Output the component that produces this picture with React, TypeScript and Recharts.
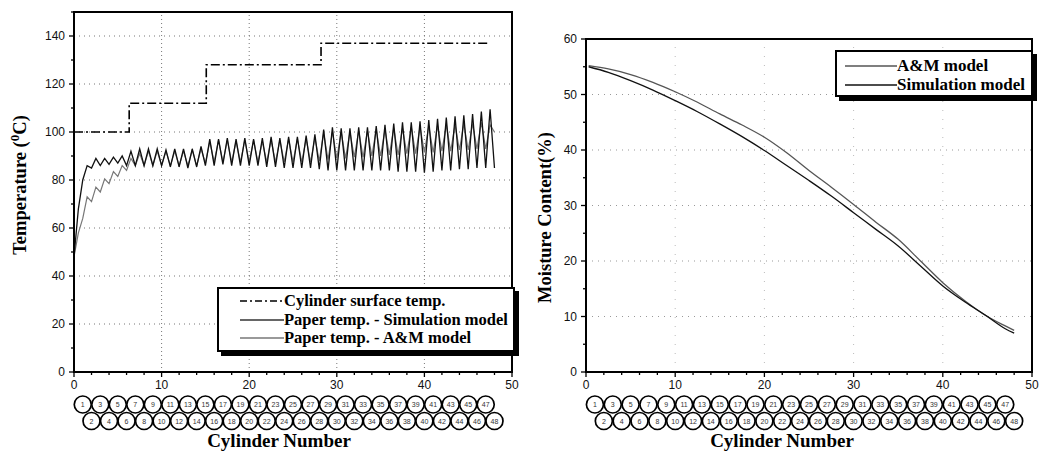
import React from 'react';
import { LineChart, Line, XAxis, YAxis, ReferenceLine, ReferenceArea } from 'recharts';

const serif = '"Liberation Serif", "Times New Roman", serif';
const sans = '"Liberation Sans", Arial, sans-serif';

// left panel: temperatures along the dryer section
const stepStarts = [0, 6.3, 15.1, 28.2, 47.5];
const surfaceTemp = [100, 112, 128, 137, 137];

const paperStart = 48;
// peak on each cylinder (x = n - 0.5) and trough after it (x = n)
const simPeaks = [68, 86, 89, 89, 89.5, 90, 92, 93, 93, 93, 92.5, 93, 93, 93, 94, 97, 97, 97.5, 97, 97.5, 97, 97.5, 98, 97.5, 98, 98, 98.5, 99, 101, 102, 101.5, 101.5, 102, 102, 102.5, 103, 103.5, 104, 104, 104.5, 105, 105.5, 106, 106.5, 107, 107.5, 108.5, 109.5];
const simTroughs = [80, 85, 86, 86.5, 87, 86, 86, 86, 86, 86, 85.5, 85.5, 85, 85.5, 86, 86, 86.5, 86, 86, 86, 86, 85.5, 85.5, 85, 85, 85, 85, 84.5, 84, 84, 84, 84, 84, 84, 84, 84, 83.5, 83.5, 83.5, 83, 83.5, 84, 84, 84.5, 84.5, 85, 85, 85];
const amPeaks = [58, 73, 77, 80.5, 83.5, 86, 89, 91, 92, 92, 92, 92, 92, 92.5, 93, 96, 96.5, 96.5, 96, 96.5, 96.5, 96, 96.5, 96.5, 97, 97, 97, 97.5, 99.5, 100, 100, 100, 100.5, 100.5, 101, 101, 101.5, 101.5, 102, 102, 102.5, 102.5, 103, 103, 103.5, 103.5, 104, 103];
const amTroughs = [64, 71, 75, 78.5, 81.5, 84, 86, 86, 86, 86, 86, 86, 86, 86, 87, 87.5, 87.5, 87.5, 87.5, 87.5, 87.5, 87.5, 87.5, 87.5, 87.5, 87.5, 87.5, 88, 88.5, 89, 89, 89.5, 89.5, 90, 90, 90.5, 90.5, 91, 91, 91.5, 91.5, 92, 92, 92.5, 92.5, 93, 93, 100];

// right panel: moisture content
const moistureX = [0.3, 2.5, 5, 7.5, 10, 12.5, 15, 17.5, 20, 22.5, 25, 27.5, 30, 32.5, 35, 37.5, 40, 42.5, 45, 47, 48];
const amMoisture = [55.2, 54.6, 53.6, 52.2, 50.5, 48.6, 46.5, 44.5, 42.3, 39.5, 36.3, 33.3, 30.2, 27.0, 23.9, 20.0, 16.1, 12.8, 10.0, 8.3, 7.5];
const simMoisture = [55.0, 54.0, 52.5, 50.8, 48.9, 46.9, 44.7, 42.4, 39.9, 37.2, 34.5, 31.7, 28.7, 25.7, 22.7, 19.1, 15.5, 12.6, 10.0, 7.8, 7.0];

// axes
const xTicks = [0, 2, 4, 6, 8, 10, 12, 14, 16, 18, 20, 22, 24, 26, 28, 30, 32, 34, 36, 38, 40, 42, 44, 46, 48, 50];
const tempTicks = [0, 10, 20, 30, 40, 50, 60, 70, 80, 90, 100, 110, 120, 130, 140, 150];
const moistureTicks = [0, 5, 10, 15, 20, 25, 30, 35, 40, 45, 50, 55, 60];
const cylinderNumbers = Array.from({ length: 48 }, (_, i) => i + 1);

const tempGridY = [20, 40, 60, 80, 100, 120, 140];
const moistureGridY = [10, 20, 30, 40, 50];
const gridX = [10, 20, 30, 40];

const zigzag = (start: number, peaks: number[], troughs: number[]) => {
  const pts = [{ x: 0, y: start }];
  peaks.forEach((p, i) => {
    pts.push({ x: i + 0.5, y: p });
    pts.push({ x: i + 1, y: troughs[i] });
  });
  return pts;
};
const pairs = (xs: number[], ys: number[]) => xs.map((x, i) => ({ x, y: ys[i] }));

const surfaceData = pairs(stepStarts, surfaceTemp);
const simTempData = zigzag(paperStart, simPeaks, simTroughs);
const amTempData = zigzag(paperStart, amPeaks, amTroughs);
const amMoistData = pairs(moistureX, amMoisture);
const simMoistData = pairs(moistureX, simMoisture);

const BottomTick = (props: any) => {
  const { x, y, payload } = props;
  const major = payload.value % 10 === 0;
  return (
    <g>
      <line x1={x} y1={y} x2={x} y2={y + (major ? 5 : 3)} stroke="#000" strokeWidth={1.3} />
      {major && (
        <text x={x} y={y + 17} textAnchor="middle" fontSize={12} fontFamily={sans} fill="#111">
          {payload.value}
        </text>
      )}
    </g>
  );
};

const leftTick = (step: number) => (props: any) => {
  const { x, y, payload } = props;
  const major = payload.value % step === 0;
  return (
    <g>
      <line x1={x} y1={y} x2={x - (major ? 5 : 3)} y2={y} stroke="#000" strokeWidth={1.3} />
      {major && (
        <text x={x - 9} y={y + 4} textAnchor="end" fontSize={12} fontFamily={sans} fill="#111">
          {payload.value}
        </text>
      )}
    </g>
  );
};

const CylinderTick = (props: any) => {
  const { x, y, payload } = props;
  const n = payload.value;
  const cy = y + (n % 2 === 1 ? 16.5 : 33);
  return (
    <g>
      <circle cx={x} cy={cy} r={8.5} fill="#fff" stroke="#000" strokeWidth={1.7} />
      <text x={x} y={cy + 2.5} textAnchor="middle" fontSize={7} fontFamily={sans} fill="#333">
        {n}
      </text>
    </g>
  );
};

const cylinderTitle = (shift: number) => (props: any) => {
  const { x, y, width } = props.viewBox;
  return (
    <text x={x + width / 2 + shift} y={y + 59} textAnchor="middle" fontSize={19} fontWeight="bold" fontFamily={serif} fill="#000">
      Cylinder Number
    </text>
  );
};

const sideTitle = (cx: number, shift: number, content: React.ReactNode) => (props: any) => {
  const { y, height } = props.viewBox;
  const cy = y + height / 2 + shift;
  return (
    <text x={cx} y={cy} transform={`rotate(-90, ${cx}, ${cy})`} textAnchor="middle" dominantBaseline="central" fontSize={18.5} fontWeight="bold" fontFamily={serif} fill="#000">
      {content}
    </text>
  );
};

const Sample = ({ width, dash, color }: { width: number; dash?: string; color: string }) => (
  <svg width={width} height={10} style={{ flex: 'none' }}>
    <line x1={0} y1={5} x2={width} y2={5} stroke={color} strokeWidth={1.5} strokeDasharray={dash} />
  </svg>
);

const LegendBox = ({ left, top, width, height, pad, indent, sampleWidth, fontSize, items }: any) => (
  <div
    style={{
      position: 'absolute', left, top, width, height, boxSizing: 'border-box',
      border: '2px solid #000', boxShadow: '4px 4px 0 #000', background: '#fff',
      paddingTop: pad, fontFamily: serif, fontWeight: 'bold', fontSize, color: '#000',
    }}
  >
    {items.map((it: any) => (
      <div key={it.label} style={{ display: 'flex', alignItems: 'center', height: 18.5, paddingLeft: indent, whiteSpace: 'nowrap' }}>
        <Sample width={sampleWidth} dash={it.dash} color={it.color} />
        <span>{it.label}</span>
      </div>
    ))}
  </div>
);

const frameAxis = { stroke: '#000', strokeWidth: 2 };

const TemperatureChart = () => (
  <LineChart width={530} height={451} margin={{ top: 12, right: 18, bottom: 0, left: 0 }}>
    {tempGridY.map((v) => (
      <ReferenceLine key={`h${v}`} y={v} stroke="#777" strokeDasharray="1 4" />
    ))}
    {gridX.map((v) => (
      <ReferenceLine key={`v${v}`} x={v} stroke="#777" strokeDasharray="1 3" />
    ))}
    <XAxis dataKey="x" type="number" domain={[0, 50]} ticks={xTicks} interval={0} height={16}
      tickSize={0} tickMargin={0} tickLine={false} axisLine={frameAxis} tick={BottomTick} />
    <XAxis xAxisId="cyl" dataKey="x" type="number" domain={[0, 50]} ticks={cylinderNumbers} interval={0} height={63}
      tickSize={0} tickMargin={0} tickLine={false} axisLine={false} tick={CylinderTick} label={cylinderTitle(-14)} />
    <YAxis type="number" domain={[0, 150]} ticks={tempTicks} interval={0} width={74}
      tickSize={0} tickMargin={0} tickLine={false} axisLine={frameAxis} tick={leftTick(20)}
      label={sideTitle(20, -7, <>Temperature  (<tspan dy={-6} fontSize={13}>0</tspan><tspan dy={6}>C)</tspan></>)} />
    <ReferenceArea x1={0} x2={50} y1={0} y2={150} fill="none" stroke="#000" strokeWidth={2} />
    <Line xAxisId="cyl" data={surfaceData} dataKey="y" type="stepAfter" stroke="#000" strokeWidth={1.6}
      strokeDasharray="9 3 2 3" dot={false} isAnimationActive={false} />
    <Line data={amTempData} dataKey="y" type="linear" stroke="#777" strokeWidth={1.2} dot={false} isAnimationActive={false} />
    <Line data={simTempData} dataKey="y" type="linear" stroke="#111" strokeWidth={1.3} dot={false} isAnimationActive={false} />
  </LineChart>
);

const MoistureChart = () => (
  <LineChart width={522} height={451} margin={{ top: 39, right: 20, bottom: 0, left: 0 }}>
    {moistureGridY.map((v) => (
      <ReferenceLine key={`h${v}`} y={v} stroke="#999" strokeDasharray="1 5" />
    ))}
    {gridX.map((v) => (
      <ReferenceLine key={`v${v}`} x={v} stroke="#bbb" strokeDasharray="1 8" />
    ))}
    <XAxis dataKey="x" type="number" domain={[0, 50]} ticks={xTicks} interval={0} height={16}
      tickSize={0} tickMargin={0} tickLine={false} axisLine={frameAxis} tick={BottomTick} />
    <XAxis xAxisId="cyl" dataKey="x" type="number" domain={[0, 50]} ticks={cylinderNumbers} interval={0} height={63}
      tickSize={0} tickMargin={0} tickLine={false} axisLine={false} tick={CylinderTick} label={cylinderTitle(-27)} />
    <YAxis type="number" domain={[0, 60]} ticks={moistureTicks} interval={0} width={56}
      tickSize={0} tickMargin={0} tickLine={false} axisLine={frameAxis} tick={leftTick(10)}
      label={sideTitle(15, 12, 'Moisture Content(%)')} />
    <ReferenceArea x1={0} x2={50} y1={0} y2={60} fill="none" stroke="#000" strokeWidth={2} />
    <Line xAxisId="cyl" data={amMoistData} dataKey="y" type="monotone" stroke="#555" strokeWidth={1.3} dot={false} isAnimationActive={false} />
    <Line data={simMoistData} dataKey="y" type="monotone" stroke="#111" strokeWidth={1.3} dot={false} isAnimationActive={false} />
  </LineChart>
);

export default function App() {
  return (
    <div style={{ position: 'absolute', left: 0, top: 0, width: 1052, height: 451, background: '#fff', overflow: 'hidden' }}>
      <div style={{ position: 'absolute', left: 0, top: 0 }}>
        <TemperatureChart />
      </div>
      <div style={{ position: 'absolute', left: 530, top: 0 }}>
        <MoistureChart />
      </div>
      <LegendBox left={217} top={287} width={298} height={65} pad={3} indent={21} sampleWidth={44} fontSize={16.5}
        items={[
          { label: 'Cylinder surface temp.', dash: '7 3 2 3', color: '#000' },
          { label: 'Paper temp. - Simulation model', color: '#333' },
          { label: 'Paper temp. - A&M model', color: '#777' },
        ]} />
      <LegendBox left={835} top={50} width={198} height={47} pad={5} indent={8} sampleWidth={52} fontSize={17}
        items={[
          { label: 'A&M model', color: '#555' },
          { label: 'Simulation model', color: '#111' },
        ]} />
    </div>
  );
}
